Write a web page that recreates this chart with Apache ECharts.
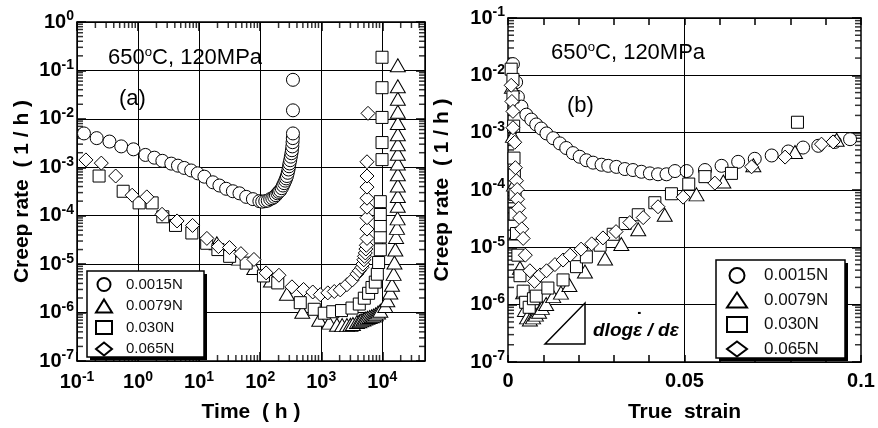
<!DOCTYPE html>
<html>
<head>
<meta charset="utf-8">
<script src="https://cdn.jsdelivr.net/npm/echarts@6/dist/echarts.min.js"></script>
<style>html,body{margin:0;background:#fff}#chart{width:878px;height:428px}</style>
</head>
<body>
<div id="chart"></div>
<script>
const FONT = '"Liberation Sans", Arial, sans-serif'
const names = ['0.0015N', '0.0079N', '0.030N', '0.065N']
const symbols = ['circle', 'triangle', 'rect', 'diamond']
const symSizes = [13, [15, 13], 12, 14]

// (a) time (h) vs creep rate (1/h)
const timeCirc = [[0.13,5.0e-3],[0.21,4.0e-3],[0.34,3.4e-3],[0.53,2.7e-3],[0.84,2.35e-3],[1.32,1.8e-3],[1.85,1.58e-3],[2.5,1.36e-3],[3.5,1.19e-3],[4.5,1.08e-3],[5.7,9.7e-4],[7.4,8.6e-4],[9.5,7.5e-4],[12.2,6.4e-4],[16.8,4.9e-4],[21.5,4.2e-4],[27.7,3.6e-4],[35.7,3.2e-4],[45.8,2.9e-4],[59,2.45e-4],[76,2.2e-4],[97,2.0e-4],[108,1.95e-4],[121,2.0e-4],[133,2.05e-4],[146,2.2e-4],[158,2.3e-4],[170,2.45e-4],[181,2.65e-4],[192,2.9e-4],[202,3.1e-4],[213,3.3e-4],[225,3.7e-4],[236,4.2e-4],[247,4.7e-4],[257,5.3e-4],[266,5.9e-4],[274,6.6e-4],[283,7.7e-4],[291,9.0e-4],[297,1.05e-3],[302,1.2e-3],[310,1.4e-3],[318,1.66e-3],[325,1.95e-3],[331,2.25e-3],[336,2.7e-3],[339,3.3e-3],[342,4.0e-3],[344,5.0e-3],[344,1.5e-2],[344,6.4e-2]]
const timeTri = [[19.5,2.7e-5],[45,1.3e-5],[80,8.3e-6],[150,4.6e-6],[274,2.45e-6],[489,1.04e-6],[927,7.1e-7],[1350,6.2e-7],[1807,5.6e-7],[2200,5.5e-7],[2636,5.5e-7],[3000,5.6e-7],[3300,5.8e-7],[3846,6.4e-7],[4200,6.6e-7],[4500,6.9e-7],[4900,7.2e-7],[5263,7.5e-7],[5700,7.8e-7],[6200,8.1e-7],[6700,8.4e-7],[7200,8.7e-7],[7800,9.2e-7],[8500,1.0e-6],[9270,1.09e-6],[11190,1.37e-6],[12070,1.8e-6],[13520,2.6e-6],[14420,3.76e-6],[15320,6.3e-6],[15800,1.08e-5],[16330,2.0e-5],[16800,3.65e-5],[17400,5.6e-5],[17800,8.8e-5],[17900,1.6e-4],[17950,2.56e-4],[17950,4.2e-4],[17950,7.2e-4],[17950,1.2e-3],[17950,1.9e-3],[17950,3.0e-3],[17950,4.8e-3],[17950,8.2e-3],[17950,1.4e-2],[17950,2.6e-2],[17950,4.7e-2],[17950,0.128]]
const timeSq = [[0.23,6.6e-4],[0.57,3.2e-4],[1.04,1.84e-4],[1.7,1.84e-4],[2.54,9.5e-5],[4.1,6.3e-5],[7.6,4.4e-5],[13.3,2.7e-5],[20.3,2.0e-5],[31.6,1.45e-5],[59,1.05e-5],[113,5.7e-6],[194,4.1e-6],[453,1.6e-6],[767,1.17e-6],[1119,9.7e-7],[1545,1.04e-6],[2145,1.1e-6],[3186,1.24e-6],[4197,1.5e-6],[5070,1.98e-6],[5960,2.5e-6],[6770,3.3e-6],[7670,4.25e-6],[8280,6.2e-6],[8690,1.08e-5],[9270,1.98e-5],[9270,3.65e-5],[9270,6.2e-5],[9270,1.06e-4],[9270,1.95e-4],[9890,1.44e-3],[9890,3.24e-3],[9890,1.07e-2],[9890,4.4e-2],[9890,0.187]]
const timeDia = [[0.14,1.42e-3],[0.25,1.22e-3],[0.43,6.6e-4],[0.80,2.65e-4],[1.39,2.45e-4],[2.47,1.07e-4],[4.35,7.8e-5],[7.8,6.3e-5],[13.4,3.4e-5],[20.7,2.3e-5],[31.4,2.2e-5],[48.3,1.65e-5],[79,1.25e-5],[125,6.6e-6],[203,5.9e-6],[331,3.4e-6],[513,3.0e-6],[726,2.66e-6],[964,2.34e-6],[1280,2.55e-6],[1634,2.72e-6],[2048,2.94e-6],[2636,3.76e-6],[3221,4.7e-6],[3846,6.3e-6],[4200,7.3e-6],[4645,8.6e-6],[4800,1.0e-5],[4977,1.23e-5],[5100,1.45e-5],[5263,1.7e-5],[5380,2.05e-5],[5470,2.45e-5],[5610,3.4e-5],[5610,5.3e-5],[5610,9.1e-5],[5610,1.5e-4],[5610,2.3e-4],[5610,3.9e-4],[5610,6.6e-4],[5610,1.3e-3],[5830,1.3e-2]]

// (b) true strain vs creep rate (1/h)
const strainCirc = [[0.0014,1.57e-2],[0.0023,7.6e-3],[0.0028,4.2e-3],[0.0038,2.85e-3],[0.0052,2.06e-3],[0.0066,1.69e-3],[0.0080,1.39e-3],[0.0094,1.18e-3],[0.0109,9.7e-4],[0.0128,8.0e-4],[0.0147,6.5e-4],[0.0165,5.4e-4],[0.0184,4.4e-4],[0.0203,3.8e-4],[0.0222,3.3e-4],[0.0241,3.0e-4],[0.0265,2.76e-4],[0.0284,2.64e-4],[0.0307,2.53e-4],[0.0331,2.32e-4],[0.0354,2.23e-4],[0.0378,2.08e-4],[0.0402,1.95e-4],[0.0425,1.88e-4],[0.0449,1.88e-4],[0.0473,2.14e-4],[0.0506,2.14e-4],[0.0558,2.23e-4],[0.0605,2.64e-4],[0.0652,3.1e-4],[0.0699,3.5e-4],[0.0747,4.0e-4],[0.0794,4.7e-4],[0.0836,5.5e-4],[0.0879,5.9e-4],[0.0926,6.9e-4],[0.0969,7.7e-4]]
const strainTri = [[0.0011,6.3e-3],[0.0014,8.8e-4],[0.0017,1.24e-4],[0.0023,1.74e-5],[0.0034,4.4e-6],[0.0043,1.65e-6],[0.0048,8.1e-7],[0.0054,6.0e-7],[0.0062,5.5e-7],[0.0071,6.0e-7],[0.0079,6.7e-7],[0.0088,7.5e-7],[0.0096,8.8e-7],[0.0108,1.03e-6],[0.0128,1.41e-6],[0.0150,1.62e-6],[0.0174,2.2e-6],[0.0218,3.8e-6],[0.0275,6.4e-6],[0.0321,1.14e-5],[0.0369,2.06e-5],[0.0444,3.7e-5],[0.0534,8.4e-5],[0.0610,1.41e-4],[0.0695,2.7e-4],[0.0813,4.6e-4],[0.0931,7.5e-4]]
const strainSq = [[0.0009,1.28e-2],[0.0014,8.5e-3],[0.0014,4.2e-3],[0.0016,1.3e-3],[0.0017,3.6e-4],[0.0018,1.83e-4],[0.0020,8.4e-5],[0.0020,3.8e-5],[0.0024,1.74e-5],[0.0028,7.3e-6],[0.0034,3.2e-6],[0.0043,1.72e-6],[0.0050,1.1e-6],[0.0060,9.0e-7],[0.0072,1.27e-6],[0.0080,1.41e-6],[0.0113,1.95e-6],[0.0156,2.7e-6],[0.0194,4.6e-6],[0.0222,6.8e-6],[0.0261,1.09e-5],[0.0298,1.69e-5],[0.0332,2.6e-5],[0.0369,3.7e-5],[0.0416,6.0e-5],[0.0463,8.6e-5],[0.0512,1.27e-4],[0.0558,1.71e-4],[0.0633,1.95e-4],[0.0820,1.52e-3]]
const strainDia = [[0.0009,6.7e-3],[0.0011,3.5e-3],[0.0014,2.35e-3],[0.0014,1.22e-3],[0.0019,6.8e-4],[0.0021,2.45e-4],[0.0024,1.45e-4],[0.0026,1.02e-4],[0.0027,6.9e-5],[0.0030,4.8e-5],[0.0033,3.26e-5],[0.0039,2.1e-5],[0.0043,1.43e-5],[0.0049,7.3e-6],[0.0062,3.9e-6],[0.0075,2.55e-6],[0.0091,3.3e-6],[0.0109,3.9e-6],[0.0133,5.0e-6],[0.0156,6.0e-6],[0.0176,7.3e-6],[0.0207,9.3e-6],[0.0237,1.15e-5],[0.0269,1.46e-5],[0.0306,1.88e-5],[0.0345,2.7e-5],[0.0383,3.3e-5],[0.0425,5.1e-5],[0.0496,7.5e-5],[0.0586,1.32e-4],[0.0690,2.54e-4],[0.0785,3.75e-4],[0.0888,6.3e-4],[0.0921,6.9e-4]]

const timeRange = [0.1, 50000], rateRangeA = [1e-7, 1]
const strainRange = [0, 0.1], rateRangeB = [1e-7, 1e-1]

;(function () {
  const chart = echarts.init(document.getElementById('chart'))
  const black = '#000', tickColor = '#000'
  const rich = {
    b: {fontSize: 20, fontWeight: 'bold', fontFamily: FONT, color: black},
    e: {fontSize: 14, fontWeight: 'bold', fontFamily: FONT, color: black, padding: [0, 0, 11, 0]},
  }
  /** 10^n label */
  function powLabel(v) {
    const l = Math.log10(v), e = Math.round(l)
    if (Math.abs(l - e) > 1e-6) return ''
    return `{b|10}{e|${ e }}`
  }
  /** 2..9 x 10^k inside a range */
  function logMinors(lo, hi) {
    const out = []
    for (let k = Math.floor(Math.log10(lo)); k <= Math.ceil(Math.log10(hi)); k++)
      for (let m = 2; m <= 9; m++) {
        const v = m * Math.pow(10, k)
        if (v > lo * 1.0001 && v < hi * 0.9999) out.push(v)
      }
    return out
  }
  /** inward minor ticks: thin rect symbols placed on the axis through its scale */
  function ticks(xi, yi, pts, size, offset) {
    return {
      type: 'scatter', xAxisIndex: xi, yAxisIndex: yi, data: pts, clip: false,
      symbol: 'rect', symbolSize: size, symbolOffset: offset, itemStyle: {color: tickColor},
    }
  }
  function minorTickSeries(xi, yi, xr, yr, xLog) {
    const out = []
    const yv = logMinors(yr[0], yr[1])
    out.push(ticks(xi, yi, yv.map(v => [xr[0], v]), [6, 1.5], [3, 0]))
    out.push(ticks(xi, yi, yv.map(v => [xr[1], v]), [6, 1.5], [-3, 0]))
    if (xLog) {
      const xv = logMinors(xr[0], xr[1])
      out.push(ticks(xi, yi, xv.map(v => [v, yr[0]]), [1.5, 6], [0, -3]))
      out.push(ticks(xi, yi, xv.map(v => [v, yr[1]]), [1.5, 6], [0, 3]))
    }
    return out
  }
  function scatter(i, data, xi, yi) {
    return {
      type: 'scatter', name: names[i], data, xAxisIndex: xi, yAxisIndex: yi,
      symbol: symbols[i], symbolSize: symSizes[i], z: 3 + i, silent: true,
      itemStyle: {color: '#fff', borderColor: black, borderWidth: 1, opacity: 1},
      emphasis: {disabled: true},
    }
  }
  const axisLine = {show: true, onZero: false, lineStyle: {color: black, width: 1.5}}
  const split = {show: true, lineStyle: {color: black, width: 1}}
  const majorTick = len => ({show: true, inside: true, length: len, lineStyle: {color: tickColor, width: 1.5}})
  const titleStyle = {fontSize: 21, fontWeight: 'bold', fontFamily: FONT, color: black}
  const legendBase = {orient: 'vertical', data: names, selectedMode: false, z: 30}
  /** legend frame with a hard drop shadow */
  const frame = (x, y, w, h) => ([
    {type: 'rect', z: 20, silent: true, shape: {x: x + 3, y: y + 3, width: w, height: h}, style: {fill: black}},
    {type: 'rect', z: 21, silent: true, shape: {x, y, width: w, height: h}, style: {fill: '#fff', stroke: black, lineWidth: 1.5}},
  ])
  const note = (left, top, size) => ({
    type: 'text', left, top, silent: true,
    style: {
      text: '{n|650}{s|o}{n|C, 120MPa}', fill: black,
      rich: {n: {fontSize: size, fontFamily: FONT, fill: black}, s: {fontSize: size * 0.6, fontFamily: FONT, fill: black, padding: [0, 0, size * 0.5, 0]}},
    },
  })

  const option = {
    animation: false,
    backgroundColor: '#fff',
    grid: [
      {left: 77, top: 22, width: 348, height: 351},
      {left: 508, top: 18, width: 353, height: 353},
    ],
    xAxis: [
      {gridIndex: 0, type: 'log', position: 'bottom', min: timeRange[0], max: timeRange[1], splitNumber: 6,
        axisLine, splitLine: split, axisTick: majorTick(9),
        axisLabel: {formatter: powLabel, rich, margin: 9, showMaxLabel: false},
        name: 'Time  ( h )', nameLocation: 'middle', nameGap: 41, nameTextStyle: titleStyle},
      {gridIndex: 0, type: 'log', position: 'top', min: timeRange[0], max: timeRange[1], splitNumber: 6,
        axisLine, splitLine: {show: false}, axisLabel: {show: false}, axisTick: majorTick(9)},
      {gridIndex: 1, type: 'value', position: 'bottom', min: strainRange[0], max: strainRange[1], interval: 0.01,
        axisLine, splitLine: {show: false}, axisTick: majorTick(7),
        axisLabel: {
          margin: 9, fontSize: 20, fontWeight: 'bold', fontFamily: FONT, color: black,
          formatter: v => (Math.abs(v / 0.05 - Math.round(v / 0.05)) < 1e-6 ? String(+v.toFixed(2)) : ''),
        },
        name: 'True  strain', nameLocation: 'middle', nameGap: 40, nameTextStyle: titleStyle},
      {gridIndex: 1, type: 'value', position: 'top', min: strainRange[0], max: strainRange[1], interval: 0.01,
        axisLine, splitLine: {show: false}, axisLabel: {show: false}, axisTick: majorTick(7)},
    ],
    yAxis: [
      {gridIndex: 0, type: 'log', position: 'left', min: rateRangeA[0], max: rateRangeA[1], splitNumber: 7,
        axisLine, splitLine: split, axisTick: majorTick(9),
        axisLabel: {formatter: powLabel, rich, margin: 3},
        name: 'Creep rate  ( 1 / h )', nameLocation: 'middle', nameGap: 44, nameTextStyle: titleStyle},
      {gridIndex: 0, type: 'log', position: 'right', min: rateRangeA[0], max: rateRangeA[1], splitNumber: 7,
        axisLine, splitLine: {show: false}, axisTick: majorTick(9), axisLabel: {show: false}},
      {gridIndex: 1, type: 'log', position: 'left', min: rateRangeB[0], max: rateRangeB[1], splitNumber: 6,
        axisLine, splitLine: split, axisTick: majorTick(9),
        axisLabel: {formatter: powLabel, rich, margin: 3},
        name: 'Creep rate  ( 1 / h )', nameLocation: 'middle', nameGap: 55, nameTextStyle: titleStyle},
      {gridIndex: 1, type: 'log', position: 'right', min: rateRangeB[0], max: rateRangeB[1], splitNumber: 6,
        axisLine, splitLine: {show: false}, axisTick: majorTick(9), axisLabel: {show: false}},
    ],
    legend: [
      Object.assign({}, legendBase, {
        left: 95, top: 277, padding: 0, itemGap: 6.5, itemWidth: 16, itemHeight: 13,
        textStyle: {fontSize: 15, fontFamily: FONT, color: '#111', padding: [0, 0, 0, 9]},
      }),
      Object.assign({}, legendBase, {
        left: 726, top: 267, padding: 0, itemGap: 7.5, itemWidth: 20, itemHeight: 15,
        textStyle: {fontSize: 17, fontFamily: FONT, color: '#111', padding: [0, 0, 0, 12]},
      }),
    ],
    graphic: [
      ...frame(87, 271, 117, 86),
      ...frame(716, 260, 129, 98),
      note(108, 46, 22),
      {type: 'text', left: 119, top: 88, silent: true, style: {text: '(a)', fontSize: 22, fontFamily: FONT, fill: black}},
      note(551, 41, 22),
      {type: 'text', left: 567, top: 95, silent: true, style: {text: '(b)', fontSize: 22, fontFamily: FONT, fill: black}},
      {type: 'polygon', silent: true, shape: {points: [[545, 344], [585, 344], [585, 303]]}, style: {fill: 'none', stroke: black, lineWidth: 1.5}},
      {type: 'text', left: 593, top: 321, silent: true,
        style: {text: 'dlog\u03B5 / d\u03B5', fontSize: 19, fontWeight: 'bold', fontStyle: 'italic', fontFamily: FONT, fill: black}},
      {type: 'text', left: 636, top: 311, silent: true,
        style: {text: '\u02D9', fontSize: 20, fontWeight: 'bold', fontFamily: FONT, fill: black}},
    ],
    series: [
      ...minorTickSeries(0, 0, timeRange, rateRangeA, true),
      ...minorTickSeries(2, 2, strainRange, rateRangeB, false),
      {type: 'scatter', xAxisIndex: 2, yAxisIndex: 2, data: [], z: 1, silent: true,
        markLine: {silent: true, symbol: 'none', label: {show: false}, lineStyle: {color: black, width: 1, type: 'solid'}, data: [{xAxis: 0.05}]}},
      scatter(0, timeCirc, 0, 0), scatter(1, timeTri, 0, 0), scatter(2, timeSq, 0, 0), scatter(3, timeDia, 0, 0),
      scatter(0, strainCirc, 2, 2), scatter(1, strainTri, 2, 2), scatter(2, strainSq, 2, 2), scatter(3, strainDia, 2, 2),
    ],
  }
  chart.setOption(option)
})()
</script>
</body>
</html>
